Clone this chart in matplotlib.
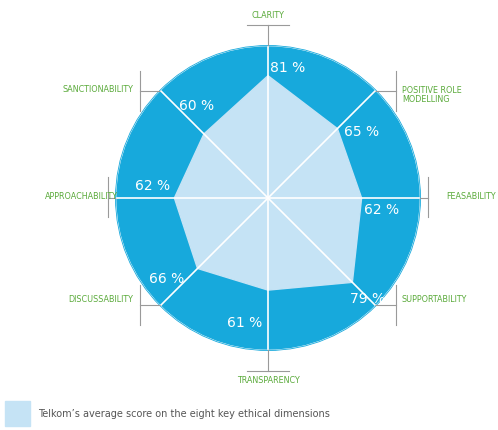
import matplotlib.pyplot as plt
import numpy as np

labels = ["CLARITY", "POSITIVE ROLE\nMODELLING", "FEASABILITY", "SUPPORTABILITY",
          "TRANSPARENCY", "DISCUSSABILITY", "APPROACHABILITY", "SANCTIONABILITY"]
scores = [81, 65, 62, 79, 61, 66, 62, 60]
legend_text = "Telkom\u2019s average score on the eight key ethical dimensions"

cx, cy, R = 268, 199, 151
dark = "#17a9dc"
light = "#c5e3f5"
green = "#5aaa3a"
grey = "#9a9a9a"

fig = plt.figure(figsize=(4.98, 4.31), dpi=100)
ax = fig.add_axes([0, 0, 1, 1])
ax.set_xlim(0, 498)
ax.set_ylim(431, 0)
ax.axis("off")

ang = np.deg2rad(90 - 45 * np.arange(8))
ux, uy = np.cos(ang), -np.sin(ang)

ax.add_patch(plt.Circle((cx, cy), R, color=dark, zorder=1))
ax.add_patch(plt.Circle((cx, cy), R + 1.5, fill=False, ec=dark, lw=0.6, zorder=1))
r = np.array(scores) / 100 * R
ax.fill(cx + r * ux, cy + r * uy, color=light, zorder=2)
for i in range(8):
    ax.plot([cx, cx + R * ux[i]], [cy, cy + R * uy[i]], color="white", lw=1.2, zorder=3)

# connectors outside the circle
ex, ey = cx + R * ux, cy + R * uy
ax.plot([cx, cx], [ey[0], 26], color=grey, lw=0.8)
ax.plot([247, 289], [26, 26], color=grey, lw=0.8)
ax.plot([cx, cx], [ey[4], 372], color=grey, lw=0.8)
ax.plot([247, 289], [372, 372], color=grey, lw=0.8)
ax.plot([ex[2], 428], [cy, cy], color=grey, lw=0.8)
ax.plot([428, 428], [178, 218], color=grey, lw=0.8)
ax.plot([ex[6], 108], [cy, cy], color=grey, lw=0.8)
ax.plot([108, 108], [178, 218], color=grey, lw=0.8)
for i, tx in [(1, 396), (3, 396), (5, 140), (7, 140)]:
    ax.plot([ex[i], tx], [ey[i], ey[i]], color=grey, lw=0.8)
    ax.plot([tx, tx], [ey[i] - 20, ey[i] + 20], color=grey, lw=0.8)

kw = dict(color=green, fontsize=5.8, va="center", linespacing=1.1)
ax.text(cx, 15, labels[0], ha="center", **kw)
ax.text(402, 95, labels[1], ha="left", **kw)
ax.text(446, 197, labels[2], ha="left", **kw)
ax.text(402, 300, labels[3], ha="left", **kw)
ax.text(cx, 381, labels[4], ha="center", **kw)
ax.text(133, 300, labels[5], ha="right", **kw)
ax.text(118, 197, labels[6], ha="right", **kw)
ax.text(133, 90, labels[7], ha="right", **kw)

pct_pos = [(288, 68), (362, 132), (382, 210), (368, 299),
           (245, 323), (167, 279), (153, 186), (197, 106)]
for (px, py), s in zip(pct_pos, scores):
    ax.text(px, py, f"{s} %", color="white", fontsize=10, ha="center", va="center", zorder=4)

ax.add_patch(plt.Rectangle((5, 402), 25, 25, color=light))
ax.text(38, 414, legend_text, color="#555555", fontsize=7, va="center")

fig.savefig("out.png", dpi=100)
